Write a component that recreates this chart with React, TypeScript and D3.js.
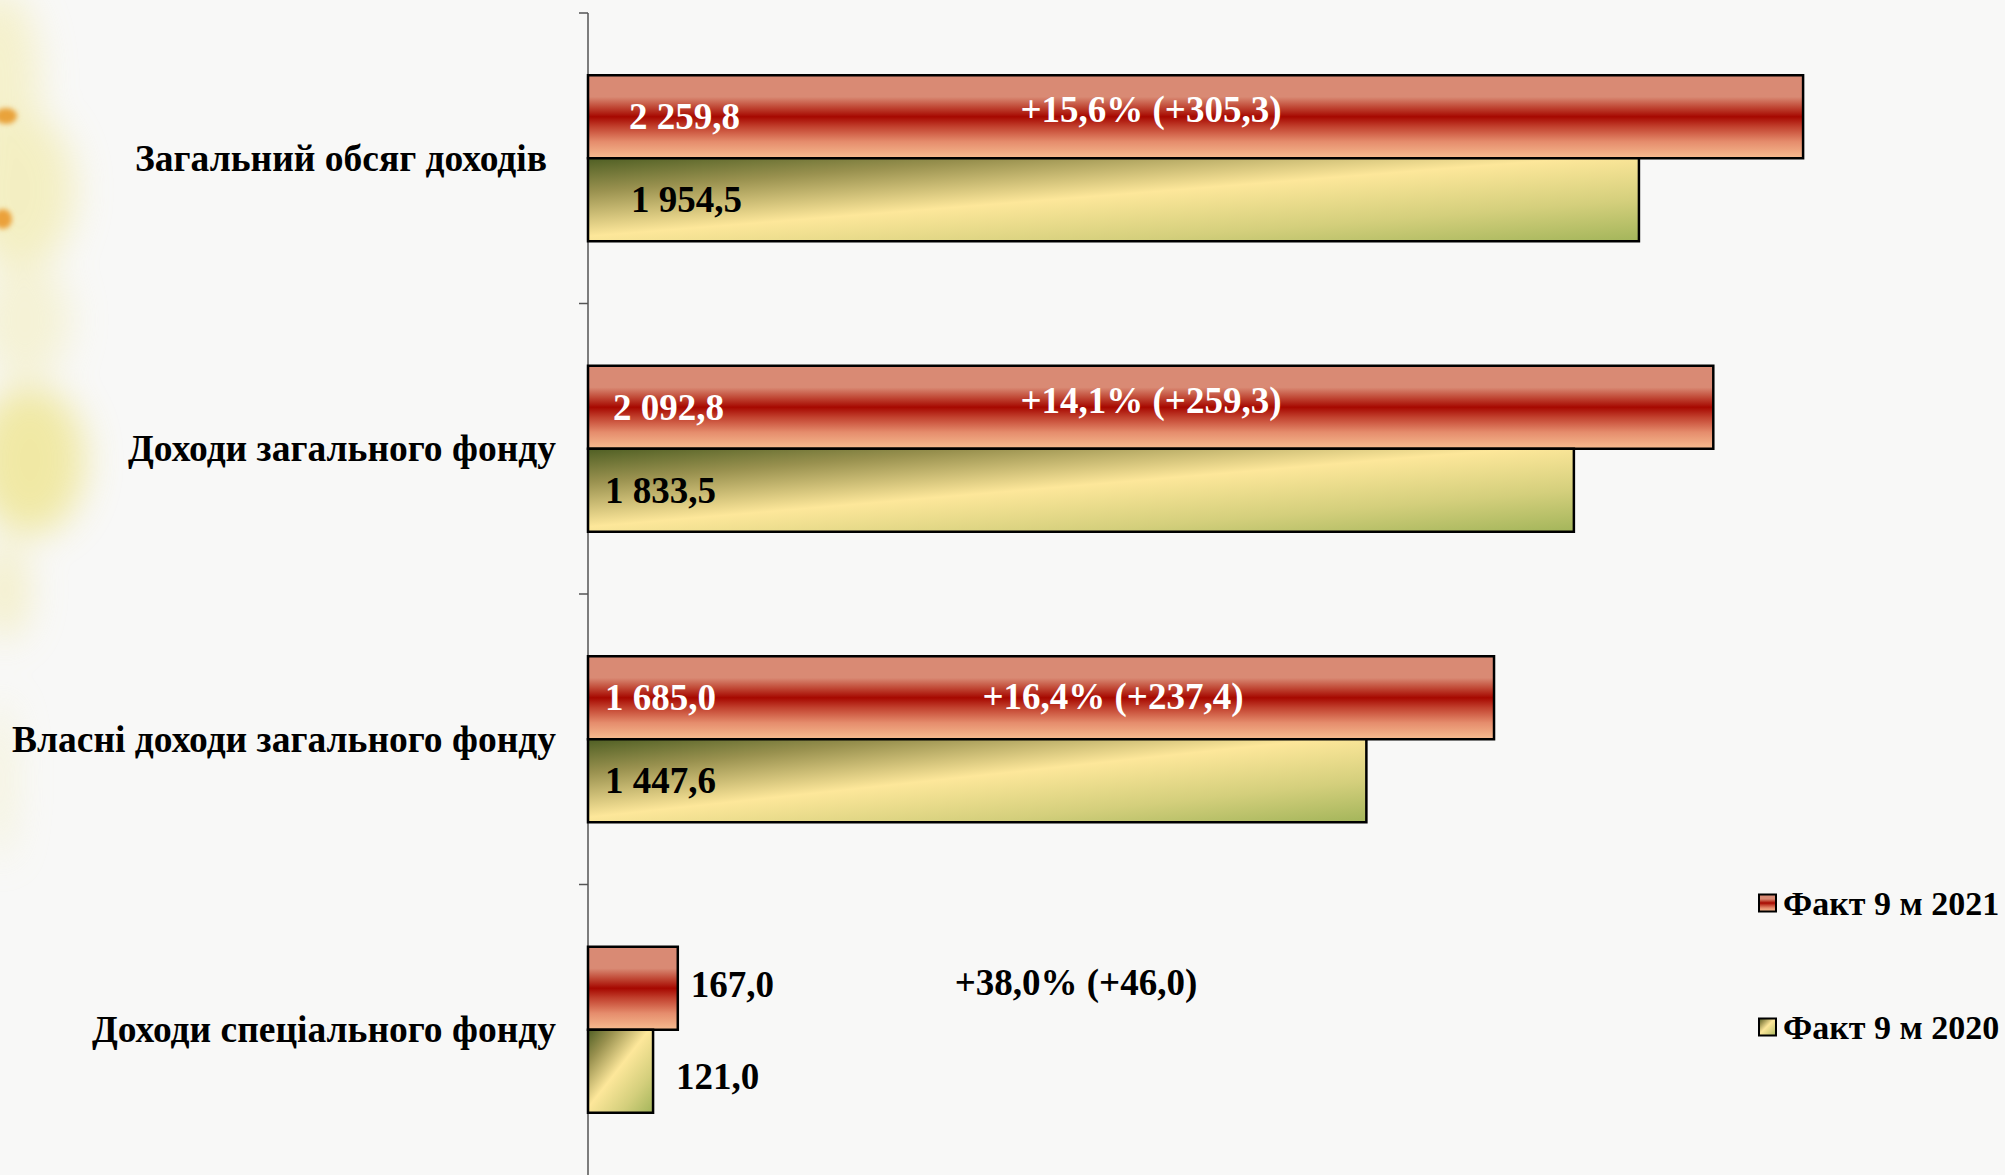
import React from "react";
import * as d3 from "d3";

// ---------- data ----------
const categories = [
  "Загальний обсяг доходів",
  "Доходи загального фонду",
  "Власні доходи загального фонду",
  "Доходи спеціального фонду",
];
const seriesNames = ["Факт 9 м 2021", "Факт 9 м 2020"];
const fact2021 = [2259.8, 2092.8, 1685.0, 167.0];
const fact2020 = [1954.5, 1833.5, 1447.6, 121.0];

// ---------- layout (not data) ----------
const W = 2005;
const H = 1175;
const AXIS_X = 588;
const PLOT_TOP = 13;
const X_MAX = 2500;
const PX_PER_UNIT = 0.5377;
const categoryLabelRight = [547, 556, 556, 556];
const insideInset2021 = [41, 25, 17];
const insideInset2020 = [43, 17, 17];
const outsideGap = [13, 23];
const outsideDy = [-4, 5];
const changeLabelX = [1151, 1151, 1113, 1076];
const changeLabelDy = [-7, -7, -1, -6];
const FONT = "'Liberation Serif', 'Times New Roman', serif";

const fmt = (v: number) => {
  const s = d3.format(",.1f")(v); // 2,259.8
  return s.replace(/,/g, " ").replace(".", ",");
};
const fmtSigned = (v: number) => "+" + fmt(v);

export default function App() {
  const y = d3
    .scaleBand<string>()
    .domain(categories)
    .range([PLOT_TOP, H])
    .paddingInner(0)
    .paddingOuter(0);
  const inner = d3
    .scaleBand<string>()
    .domain(seriesNames)
    .range([0, y.bandwidth()])
    .paddingInner(0)
    .paddingOuter(0.75);
  const x = d3
    .scaleLinear()
    .domain([0, X_MAX])
    .range([AXIS_X, AXIS_X + X_MAX * PX_PER_UNIT]);

  const bh = inner.bandwidth();
  const tickYs = categories.map((c) => y(c)!);

  return (
    <svg
      width={W}
      height={H}
      style={{ position: "absolute", left: 0, top: 0, display: "block" }}
    >
      <defs>
        <linearGradient id="gRed" x1="0" y1="0" x2="0" y2="1">
          <stop offset="0" stopColor="#d98a74" />
          <stop offset="0.26" stopColor="#d98a74" />
          <stop offset="0.38" stopColor="#c14a37" />
          <stop offset="0.5" stopColor="#a60800" />
          <stop offset="0.62" stopColor="#c2412e" />
          <stop offset="0.8" stopColor="#e58c6c" />
          <stop offset="1" stopColor="#f7bc90" />
        </linearGradient>
        <linearGradient id="gGreen" x1="0" y1="0" x2="1" y2="1">
          <stop offset="0" stopColor="#4f5f24" />
          <stop offset="0.2" stopColor="#99914f" />
          <stop offset="0.47" stopColor="#fde79a" />
          <stop offset="0.75" stopColor="#d4cf7c" />
          <stop offset="1" stopColor="#a3b55a" />
        </linearGradient>
        <filter id="blur" x="-100%" y="-50%" width="300%" height="200%">
          <feGaussianBlur stdDeviation="18" />
        </filter>
        <filter id="blur2" x="-50%" y="-50%" width="200%" height="200%">
          <feGaussianBlur stdDeviation="2.5" />
        </filter>
      </defs>

      {/* background */}
      <rect x={0} y={0} width={W} height={H} fill="#f8f8f7" />
      <g filter="url(#blur)" opacity={0.6}>
        <ellipse cx={0} cy={80} rx={40} ry={90} fill="#f3ecb0" />
        <ellipse cx={20} cy={190} rx={55} ry={80} fill="#f1e9a0" />
        <ellipse cx={25} cy={320} rx={45} ry={60} fill="#f3eec0" />
        <ellipse cx={30} cy={460} rx={55} ry={75} fill="#ebdf6e" />
        <ellipse cx={5} cy={590} rx={25} ry={50} fill="#f1eab0" />
        <ellipse cx={0} cy={780} rx={14} ry={80} fill="#f2efc8" />
      </g>
      <g filter="url(#blur2)">
        <ellipse cx={6} cy={116} rx={11} ry={8} fill="#e9a33a" />
        <ellipse cx={3} cy={219} rx={9} ry={10} fill="#eba13a" />
      </g>

      {/* axis */}
      <line x1={AXIS_X} x2={AXIS_X} y1={PLOT_TOP} y2={H} stroke="#555" strokeWidth={1.5} />
      {tickYs.map((ty, i) => (
        <line key={i} x1={AXIS_X - 9} x2={AXIS_X} y1={ty} y2={ty} stroke="#555" strokeWidth={1.5} />
      ))}

      {/* category labels */}
      {categories.map((c, i) => (
        <text
          key={c}
          x={categoryLabelRight[i]}
          y={y(c)! + y.bandwidth() / 2}
          textAnchor="end"
          dominantBaseline="central"
          fontFamily={FONT}
          fontWeight="bold"
          fontSize={37.5}
          fill="#000"
        >
          {c}
        </text>
      ))}

      {/* bars */}
      {categories.map((c, i) => {
        const yR = y(c)! + inner(seriesNames[0])!;
        const yG = y(c)! + inner(seriesNames[1])!;
        return (
          <g key={c}>
            <rect
              x={x(0)}
              y={yR}
              width={x(fact2021[i]) - x(0)}
              height={bh}
              fill="url(#gRed)"
              stroke="#000"
              strokeWidth={2.5}
            />
            <rect
              x={x(0)}
              y={yG}
              width={x(fact2020[i]) - x(0)}
              height={bh}
              fill="url(#gGreen)"
              stroke="#000"
              strokeWidth={2.5}
            />
          </g>
        );
      })}

      {/* value labels */}
      {categories.map((c, i) => {
        const inside = i < insideInset2021.length;
        const yR = y(c)! + inner(seriesNames[0])! + bh / 2 + (inside ? 0 : outsideDy[0]);
        const yG = y(c)! + inner(seriesNames[1])! + bh / 2 + (inside ? 0 : outsideDy[1]);
        const xR = inside ? x(0) + insideInset2021[i] : x(fact2021[i]) + outsideGap[0];
        const xG = inside ? x(0) + insideInset2020[i] : x(fact2020[i]) + outsideGap[1];
        return (
          <g key={c} fontFamily={FONT} fontWeight="bold" fontSize={37}>
            <text x={xR} y={yR} dominantBaseline="central" fill={inside ? "#fff" : "#000"}>
              {fmt(fact2021[i])}
            </text>
            <text x={xG} y={yG} dominantBaseline="central" fill="#000">
              {fmt(fact2020[i])}
            </text>
          </g>
        );
      })}

      {/* change labels */}
      {categories.map((c, i) => {
        const pct = (fact2021[i] / fact2020[i] - 1) * 100;
        const diff = fact2021[i] - fact2020[i];
        const label = `${fmtSigned(pct)}% (${fmtSigned(diff)})`;
        const inside = i < insideInset2021.length;
        const yR = y(c)! + inner(seriesNames[0])! + bh / 2 + changeLabelDy[i];
        return (
          <text
            key={c}
            x={changeLabelX[i]}
            y={yR}
            textAnchor="middle"
            dominantBaseline="central"
            fontFamily={FONT}
            fontWeight="bold"
            fontSize={37}
            fill={inside ? "#fff" : "#000"}
          >
            {label}
          </text>
        );
      })}

      {/* legend */}
      {seriesNames.map((s, i) => {
        const ly = i === 0 ? 903 : 1027;
        return (
          <g key={s}>
            <rect
              x={1759}
              y={ly - 8.5}
              width={17}
              height={17}
              fill={i === 0 ? "url(#gRed)" : "url(#gGreen)"}
              stroke="#000"
              strokeWidth={2}
            />
            <text
              x={1783}
              y={ly}
              dominantBaseline="central"
              fontFamily={FONT}
              fontWeight="bold"
              fontSize={34}
              fill="#000"
            >
              {s}
            </text>
          </g>
        );
      })}
    </svg>
  );
}
